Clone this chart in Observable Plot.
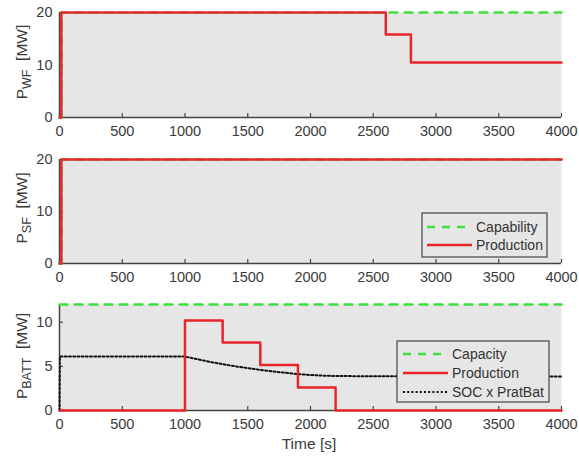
<!DOCTYPE html>
<html><head><meta charset="utf-8">
<script src="https://cdn.jsdelivr.net/npm/d3@7"></script>
<script src="https://cdn.jsdelivr.net/npm/@observablehq/plot@0.6"></script>
<style>
html,body{margin:0;padding:0;background:#fff;overflow:hidden;}
#chart{position:relative;width:579px;height:456px;font-family:"Liberation Sans",Arial,sans-serif;}
#chart svg{position:absolute;left:0;}
</style></head><body><div id="chart"></div>
<script>
// ---- data ----
const xTicks = [0, 500, 1000, 1500, 2000, 2500, 3000, 3500, 4000];
// Wind farm
const wfCapT  = [0, 15, 4000];
const wfCapP  = [0, 20, 20];
const wfProdT = [0, 15, 2600, 2800, 4000];
const wfProdP = [0, 20, 15.8, 10.5, 10.5];
// Solar farm
const sfCapT  = [0, 15, 4000];
const sfCapP  = [0, 20, 20];
const sfProdT = [0, 15, 4000];
const sfProdP = [0, 20, 20];
// Battery
const battCapT  = [0, 4000];
const battCapP  = [12, 12];
const battProdT = [0, 1000, 1300, 1600, 1900, 2200, 4000];
const battProdP = [0, 10.2, 7.7, 5.15, 2.6, 0, 0];
const socT = [0, 3, 1000, 1100, 1200, 1300, 1400, 1500, 1600, 1700, 1800, 1900, 2000, 2100, 2200, 2500, 3000, 3500, 4000];
const socP = [0, 6.1, 6.1, 5.8, 5.5, 5.25, 5.0, 4.8, 4.6, 4.42, 4.27, 4.12, 4.02, 3.95, 3.9, 3.88, 3.87, 3.86, 3.86];

const RED = "#e8262b", GREEN = "#3ee03e", BLACK = "#111";
const DOT = "2,2.2";
const zip = (t, v) => t.map((d, i) => ({t: d, v: v[i]}));
const FONT = "'Liberation Sans', Arial, sans-serif";

function panel({top, height, mb, ymax, yticks, series}) {
  const mt = 12, ml = 59, mr = 18;
  const plotH = height - mt - mb, plotW = 579 - ml - mr;
  const marks = [
    Plot.frame({fill: "#e6e6e6", stroke: null}),
    Plot.axisX(xTicks, {tickSize: 0, tickPadding: 8, label: null, fill: "#3a3a3a", tickFormat: d => String(d), fontSize: 14.5}),
    Plot.axisY(yticks, {tickSize: 0, tickPadding: 7, label: null, fill: "#3a3a3a", tickFormat: d => String(d), fontSize: 14.5}),
    Plot.tickX(xTicks, {x: d => d, insetTop: plotH - 4, stroke: "#444", strokeWidth: 1.2}),
    Plot.tickY(yticks, {y: d => d, insetRight: plotW - 4, stroke: "#444", strokeWidth: 1.2}),
    Plot.ruleX([0], {stroke: "#444", strokeWidth: 1.5}),
    Plot.ruleY([0], {stroke: "#444", strokeWidth: 1.5}),
  ];
  for (const s of series) {
    marks.push(Plot.line(zip(s.t, s.v), {x: "t", y: "v", stroke: s.stroke, strokeWidth: s.width,
      strokeDasharray: s.dash, curve: s.curve || "linear"}));
  }
  const svg = Plot.plot({
    width: 579, height, marginTop: mt, marginBottom: mb, marginLeft: ml, marginRight: mr,
    x: {domain: [0, 4000]}, y: {domain: [0, ymax]},
    style: {fontFamily: FONT, fontSize: "14px", background: "transparent", overflow: "visible"},
    marks
  });
  svg.style.top = top + "px";
  document.getElementById("chart").appendChild(svg);
  return d3.select(svg);
}

function ylabel(sel, cy, main, sub) {
  const t = sel.append("text")
    .attr("transform", `translate(27,${cy}) rotate(-90)`)
    .attr("text-anchor", "middle")
    .attr("font-size", 15.5).attr("fill", "#3a3a3a")
    .attr("font-family", FONT);
  t.append("tspan").text(main);
  t.append("tspan").attr("dy", 4).attr("font-size", 12.5).text(sub);
  t.append("tspan").attr("dy", -4).text("\u00a0 [MW]");
}

function legend(sel, x0, y0, x1, y1, rows) {
  const g = sel.append("g");
  g.append("rect").attr("x", x0).attr("y", y0).attr("width", x1 - x0).attr("height", y1 - y0)
    .attr("fill", "#e6e6e6").attr("stroke", "#444").attr("stroke-width", 1.2);
  rows.forEach(r => {
    g.append("line").attr("x1", r.lx0).attr("x2", r.lx1).attr("y1", r.y).attr("y2", r.y)
      .attr("stroke", r.stroke).attr("stroke-width", r.width).attr("stroke-dasharray", r.dash || null);
    g.append("text").attr("x", r.tx).attr("y", r.y).attr("dy", "0.35em")
      .attr("text-anchor", "start")
      .attr("font-size", 14).attr("fill", "#333")
      .attr("font-family", FONT).text(r.label);
  });
}

// Panel 1: wind farm
const p1 = panel({top: 0, height: 145, mb: 28, ymax: 20, yticks: [0, 10, 20], series: [
  {t: wfCapT, v: wfCapP, stroke: GREEN, width: 2.5, dash: "8,7", curve: "step-after"},
  {t: wfProdT, v: wfProdP, stroke: RED, width: 2.5, curve: "step-after"}
]});
ylabel(p1, 62, "P", "WF");

// Panel 2: solar farm
const p2 = panel({top: 147, height: 145, mb: 29, ymax: 20, yticks: [0, 10, 20], series: [
  {t: sfCapT, v: sfCapP, stroke: GREEN, width: 2.5, dash: "8,7", curve: "step-after"},
  {t: sfProdT, v: sfProdP, stroke: RED, width: 2.5, curve: "step-after"}
]});
ylabel(p2, 61, "P", "SF");
legend(p2, 422, 66, 547, 110, [
  {y: 80, lx0: 427, lx1: 472, tx: 476, stroke: GREEN, width: 2.5, dash: "8,7", label: "Capability"},
  {y: 98, lx0: 427, lx1: 472, tx: 476, stroke: RED, width: 2.5, label: "Production"}
]);

// Panel 3: battery
const p3 = panel({top: 292, height: 164, mb: 46, ymax: 12, yticks: [0, 5, 10], series: [
  {t: battCapT, v: battCapP, stroke: GREEN, width: 2.5, dash: "8,7"},
  {t: socT, v: socP, stroke: BLACK, width: 2, dash: DOT},
  {t: battProdT, v: battProdP, stroke: RED, width: 2.5, curve: "step-after"}
]});
ylabel(p3, 64, "P", "BATT");
legend(p3, 397, 49, 549, 110, [
  {y: 62, lx0: 403, lx1: 448, tx: 452, stroke: GREEN, width: 2.5, dash: "8,7", label: "Capacity"},
  {y: 81, lx0: 403, lx1: 448, tx: 452, stroke: RED, width: 2.5, label: "Production"},
  {y: 100, lx0: 403, lx1: 448, tx: 452, stroke: BLACK, width: 2, dash: DOT, label: "SOC x PratBat"}
]);
p3.append("text").attr("x", 309).attr("y", 157).attr("text-anchor", "middle")
  .attr("font-size", 15.5).attr("fill", "#3a3a3a")
  .attr("font-family", FONT).text("Time [s]");
</script></body></html>
